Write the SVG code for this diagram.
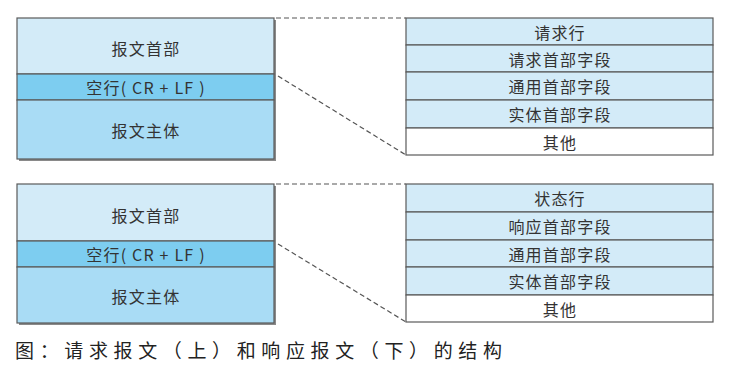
<svg xmlns="http://www.w3.org/2000/svg" width="745" height="387" viewBox="0 0 745 387">
<style>
.t{font-family:"Noto Sans CJK SC","Liberation Sans",sans-serif;font-size:16px;fill:#333;text-anchor:middle;dominant-baseline:central;letter-spacing:1.2px}
.b{stroke:#5a5a5a;stroke-width:1.2}
.sh{fill:#8a8a8a}
.hd{fill:#d3ebf8}
.bl{fill:#7dcdf0}
.bd{fill:#a9dcf5}
.row{fill:#d3ebf8}
.wh{fill:#fff}
.dash{stroke:#555;stroke-width:1.2;stroke-dasharray:5 3;fill:none}
.cap{font-family:"Noto Sans CJK SC","Liberation Serif",serif;font-size:19px;fill:#222}
</style>
<rect width="745" height="387" fill="#fff"/>

<g id="request-message">
<rect class="sh" x="19" y="20" width="257" height="141"/>
<rect class="hd b" x="17" y="18" width="257" height="56"/>
<rect class="bl b" x="17" y="74" width="257" height="26"/>
<rect class="bd b" x="17" y="100" width="257" height="59"/>
<text class="t" x="146" y="48">报文首部</text>
<text class="t" x="146" y="87">空行( CR + LF )</text>
<text class="t" x="146" y="130">报文主体</text>
</g>

<g id="request-header">
<rect class="row b" x="406" y="18" width="307" height="27"/>
<rect class="row b" x="406" y="45" width="307" height="27"/>
<rect class="row b" x="406" y="72" width="307" height="28"/>
<rect class="row b" x="406" y="100" width="307" height="28"/>
<rect class="wh b" x="406" y="128" width="307" height="27"/>
<text class="t" x="560" y="32">请求行</text>
<text class="t" x="560" y="59">请求首部字段</text>
<text class="t" x="560" y="86">通用首部字段</text>
<text class="t" x="560" y="114">实体首部字段</text>
<text class="t" x="560" y="142">其他</text>
</g>

<g id="response-message">
<rect class="sh" x="19" y="186" width="257" height="139"/>
<rect class="hd b" x="17" y="184" width="257" height="57"/>
<rect class="bl b" x="17" y="241" width="257" height="26"/>
<rect class="bd b" x="17" y="267" width="257" height="56"/>
<text class="t" x="146" y="215">报文首部</text>
<text class="t" x="146" y="254">空行( CR + LF )</text>
<text class="t" x="146" y="296">报文主体</text>
</g>

<g id="response-header">
<rect class="row b" x="406" y="184" width="307" height="28"/>
<rect class="row b" x="406" y="212" width="307" height="28"/>
<rect class="row b" x="406" y="240" width="307" height="27"/>
<rect class="row b" x="406" y="267" width="307" height="28"/>
<rect class="wh b" x="406" y="295" width="307" height="27"/>
<text class="t" x="560" y="198">状态行</text>
<text class="t" x="560" y="226">响应首部字段</text>
<text class="t" x="560" y="254">通用首部字段</text>
<text class="t" x="560" y="281">实体首部字段</text>
<text class="t" x="560" y="309">其他</text>
</g>

<g id="connectors">
<line class="dash" x1="276" y1="18" x2="406" y2="18"/>
<line class="dash" x1="278" y1="76" x2="406" y2="155"/>
<line class="dash" x1="276" y1="184" x2="406" y2="184"/>
<line class="dash" x1="278" y1="244" x2="406" y2="322"/>
</g>

<text class="cap" x="15" y="358" textLength="487" lengthAdjust="spacing">图：请求报文（上）和响应报文（下）的结构</text>
</svg>
